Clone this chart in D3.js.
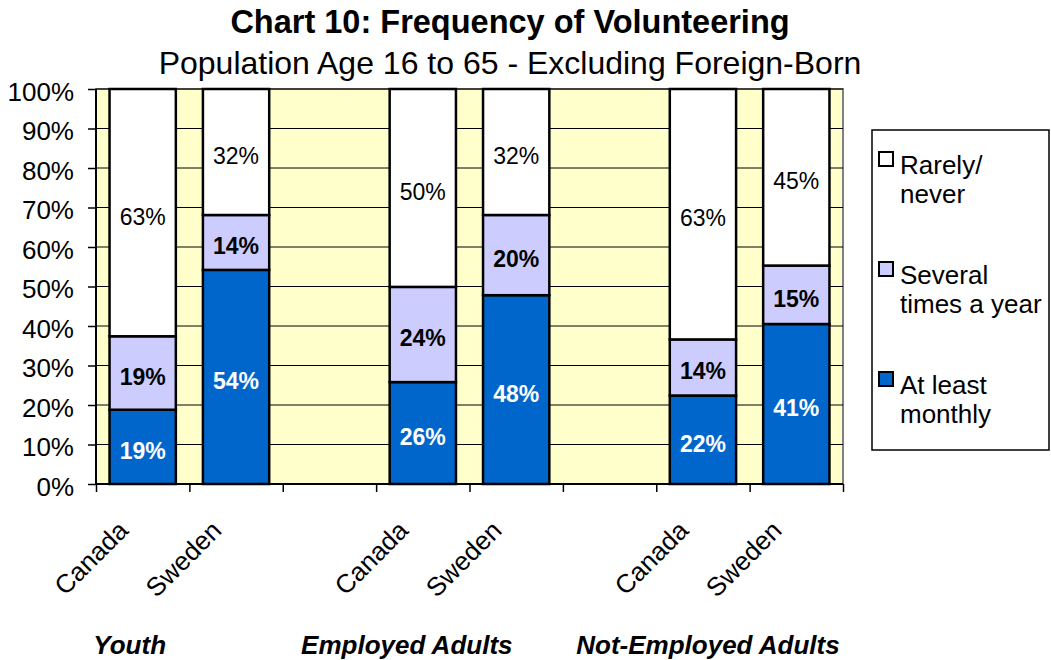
<!DOCTYPE html>
<html>
<head>
<meta charset="utf-8">
<script src="https://cdn.jsdelivr.net/npm/d3@7"></script>
<style>
  body { margin: 0; background: #fff; }
  svg text { font-family: "Liberation Sans", Arial, sans-serif; }
</style>
</head>
<body>
<svg id="chart" width="1051" height="660"></svg>
<script>
// data
var groups = ["Youth", "Employed Adults", "Not-Employed Adults"];
var countries = ["Canada", "Sweden"];
var seriesNames = ["At least monthly", "Several times a year", "Rarely/never"];
var legendLines = [["Rarely/", "never"], ["Several", "times a year"], ["At least", "monthly"]];
// one value per bar: Youth Canada, Youth Sweden, Employed Canada, Employed Sweden, Not-Employed Canada, Not-Employed Sweden
var monthly = [18.8, 54.2, 25.8, 47.8, 22.4, 40.5];
var several = [18.6, 13.9, 24.1, 20.3, 14.2, 14.8];
var rarely = [62.6, 31.9, 50.1, 31.9, 63.4, 44.7];
var yTicks = [0, 10, 20, 30, 40, 50, 60, 70, 80, 90, 100];

var colors = ["#0066cc", "#ccccff", "#ffffff"];
var labelColor = ["#fff", "#000", "#000"];
var labelWeight = ["bold", "bold", "normal"];

var svg = d3.select("#chart");
var plotLeft = 96, plotRight = 843, plotTop = 89, plotBottom = 484;

// 8 slots: 2 bars per group with an empty slot in between
var slots = [];
groups.forEach(function (g, gi) {
  countries.forEach(function (c) { slots.push(g + "|" + c); });
  if (gi < groups.length - 1) slots.push("gap" + gi);
});

var x = d3.scaleBand().domain(slots).range([plotLeft, plotRight]).paddingInner(0.29).paddingOuter(0.145);
var xEdge = d3.scaleLinear().domain([0, slots.length]).range([plotLeft, plotRight]);
var y = d3.scaleLinear().domain([0, 100]).range([plotBottom, plotTop]);

// plot background
svg.append("rect").attr("x", plotLeft).attr("y", plotTop)
  .attr("width", plotRight - plotLeft).attr("height", plotBottom - plotTop)
  .attr("fill", "#ffffcc").attr("stroke", "#808080").attr("stroke-width", 2);

// gridlines
svg.append("g").selectAll("line").data(yTicks.slice(1)).enter().append("line")
  .attr("x1", plotLeft).attr("x2", plotRight)
  .attr("y1", function (d) { return y(d); }).attr("y2", function (d) { return y(d); })
  .attr("stroke", "#000").attr("stroke-width", 1);

// stack
var rows = monthly.map(function (m, i) {
  return { key: groups[Math.floor(i / 2)] + "|" + countries[i % 2], vals: [m, several[i], rarely[i]] };
});

rows.forEach(function (r) {
  var base = 0;
  r.vals.forEach(function (v, si) {
    var y0 = base, y1 = base + v;
    base = y1;
    svg.append("rect")
      .attr("x", x(r.key)).attr("width", x.bandwidth())
      .attr("y", y(y1)).attr("height", y(y0) - y(y1))
      .attr("fill", colors[si]).attr("stroke", "#000").attr("stroke-width", 2.5);
  });
});
rows.forEach(function (r) {
  var base = 0;
  r.vals.forEach(function (v, si) {
    var y0 = base, y1 = base + v;
    base = y1;
    svg.append("text")
      .attr("x", x(r.key) + x.bandwidth() / 2)
      .attr("y", (y(y0) + y(y1)) / 2)
      .attr("dy", "0.52em")
      .attr("text-anchor", "middle")
      .attr("font-size", 23)
      .attr("font-weight", labelWeight[si])
      .attr("fill", labelColor[si])
      .text(Math.round(v) + "%");
  });
});

// y axis
var yAxis = svg.append("g").attr("transform", "translate(" + plotLeft + ",0)")
  .call(d3.axisLeft(y).tickValues(yTicks).tickSize(8).tickPadding(14).tickFormat(function (d) { return d + "%"; }));
yAxis.select(".domain").attr("stroke", "#000").attr("stroke-width", 2).attr("d", "M0," + plotTop + "V" + plotBottom);
yAxis.selectAll(".tick line").attr("stroke", "#000").attr("stroke-width", 1.5);
yAxis.selectAll("text").attr("font-size", 26).attr("dy", "0.44em").attr("fill", "#000")
  .attr("font-family", "Liberation Sans, Arial, sans-serif");

// x axis
var xAxis = svg.append("g").attr("transform", "translate(0," + plotBottom + ")")
  .call(d3.axisBottom(xEdge).tickValues(d3.range(slots.length + 1)).tickSize(8).tickFormat(""));
xAxis.select(".domain").attr("stroke", "#000").attr("stroke-width", 2).attr("d", "M" + plotLeft + ",0H" + plotRight);
xAxis.selectAll(".tick line").attr("stroke", "#000").attr("stroke-width", 1.5);

// category labels
rows.forEach(function (r) {
  var cx = x(r.key) + x.bandwidth() / 2;
  svg.append("text")
    .attr("transform", "translate(" + (cx - 13) + "," + (plotBottom + 48) + ") rotate(-45)")
    .attr("text-anchor", "end")
    .attr("font-size", 26)
    .text(r.key.split("|")[1]);
});

// group labels
var groupOffset = [-13, -16, 5];
groups.forEach(function (g, gi) {
  var first = x(g + "|" + countries[0]) + x.bandwidth() / 2;
  svg.append("text")
    .attr("x", first + groupOffset[gi]).attr("y", 654)
    .attr("text-anchor", "middle")
    .attr("font-size", 26).attr("font-weight", "bold").attr("font-style", "italic")
    .text(g);
});

// titles
svg.append("text").attr("x", 510).attr("y", 33).attr("text-anchor", "middle")
  .attr("font-size", 32.5).attr("font-weight", "bold").text("Chart 10: Frequency of Volunteering");
svg.append("text").attr("x", 510).attr("y", 74).attr("text-anchor", "middle")
  .attr("font-size", 32).text("Population Age 16 to 65 - Excluding Foreign-Born");

// legend
var legend = svg.append("g");
legend.append("rect").attr("x", 872).attr("y", 130).attr("width", 177).attr("height", 320)
  .attr("fill", "#fff").attr("stroke", "#000").attr("stroke-width", 1.5);
var legendOrder = [2, 1, 0];
legendOrder.forEach(function (si, k) {
  var ty = 152 + k * 110;
  legend.append("rect").attr("x", 879).attr("y", ty).attr("width", 14).attr("height", 14)
    .attr("fill", colors[si]).attr("stroke", "#000").attr("stroke-width", 2);
  var t = legend.append("text").attr("x", 900).attr("y", ty + 22).attr("font-size", 26);
  legendLines[k].forEach(function (line, li) {
    t.append("tspan").attr("x", 900).attr("dy", li === 0 ? 0 : 29).text(line);
  });
});
</script>
</body>
</html>
